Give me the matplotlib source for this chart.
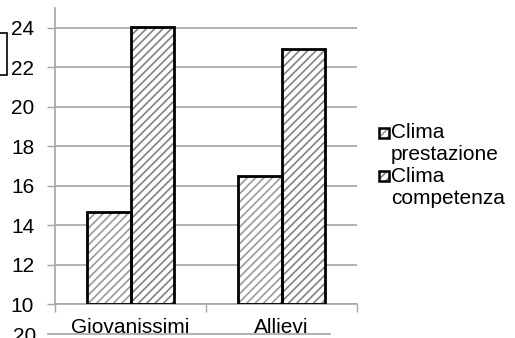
import matplotlib
matplotlib.use("Agg")
import matplotlib.pyplot as plt
import numpy as np
from matplotlib.patches import Rectangle
from matplotlib.lines import Line2D

categories = ["Giovanissimi", "Allievi"]
series_names = ["Clima\nprestazione", "Clima\ncompetenza"]
prestazione = [14.65, 16.47]
competenza = [24.05, 22.94]
yticks = [10, 12, 14, 16, 18, 20, 22, 24]

plt.rcParams['font.family'] = ['Liberation Sans', 'DejaVu Sans']
plt.rcParams['hatch.linewidth'] = 1.2
FS = 15

W, H = 515, 338
fig = plt.figure(figsize=(W/100, H/100), dpi=100)
ax = fig.add_axes([55/W, 1-304/H, (357-55)/W, (304-8)/H])

def fx(px):
    return px / W

def fy(py):
    return 1 - py / H

x = np.arange(len(categories))
w = 0.29
hatch_cols = ['#9a9a9a', '#828282']
HATCH = '////'
for i, (vals, hc) in enumerate(zip([prestazione, competenza], hatch_cols)):
    pos = x + (i - 0.5) * w
    ax.bar(pos, np.array(vals) - 10, bottom=10, width=w, facecolor='white',
           edgecolor=hc, hatch=HATCH, linewidth=0, zorder=2)
    ax.bar(pos, np.array(vals) - 10, bottom=10, width=w, fill=False,
           edgecolor='black', linewidth=2, zorder=3)

ax.set_xlim(-0.5, 1.5)
ax.set_ylim(10, 25)
ax.set_yticks(yticks)
ax.set_yticklabels([str(t) for t in yticks], fontsize=FS)
ax.yaxis.grid(True, color='#a6a6a6', linewidth=1.2, zorder=0)
ax.set_axisbelow(True)
ax.tick_params(axis='y', length=6, width=1, color='#a6a6a6', pad=9)
ax.set_xticks(x)
ax.set_xticklabels(categories, fontsize=FS)
ax.tick_params(axis='x', which='major', length=0, pad=10)
ax.set_xticks([-0.5, 0.5, 1.5], minor=True)
ax.tick_params(axis='x', which='minor', length=6, width=1, color='#a6a6a6')
for s in ['top', 'right']:
    ax.spines[s].set_visible(False)
for s in ['left', 'bottom']:
    ax.spines[s].set_color('#a6a6a6')
    ax.spines[s].set_linewidth(1.2)

# legend (drawn manually so the marker sits beside the first line)
entry_marker_cy = [133, 176]
line_gap = 22
for name, hc, cy in zip(series_names, hatch_cols, entry_marker_cy):
    fig.add_artist(Rectangle((fx(379), fy(cy + 5)), fx(10), 10/H, transform=fig.transFigure,
                             facecolor='white', edgecolor=hc, hatch=HATCH, linewidth=0))
    fig.add_artist(Rectangle((fx(379), fy(cy + 5)), fx(10), 10/H, transform=fig.transFigure,
                             fill=False, edgecolor='black', linewidth=1.8))
    for j, line in enumerate(name.split('\n')):
        fig.text(fx(391), fy(cy + 5.5 + j * line_gap), line, fontsize=FS,
                 ha='left', va='baseline')

# fragments of neighbouring content
fig.add_artist(Rectangle((fx(-10), fy(75)), fx(17), 42/H, transform=fig.transFigure,
                         fill=False, edgecolor='black', linewidth=1.2))
fig.add_artist(Line2D([fx(48), fx(330)], [fy(334), fy(334)], transform=fig.transFigure,
                      color='#a6a6a6', linewidth=1.2))
fig.text(fx(36), fy(327), "20", fontsize=FS, ha='right', va='top')

fig.savefig("out.png", dpi=100)
